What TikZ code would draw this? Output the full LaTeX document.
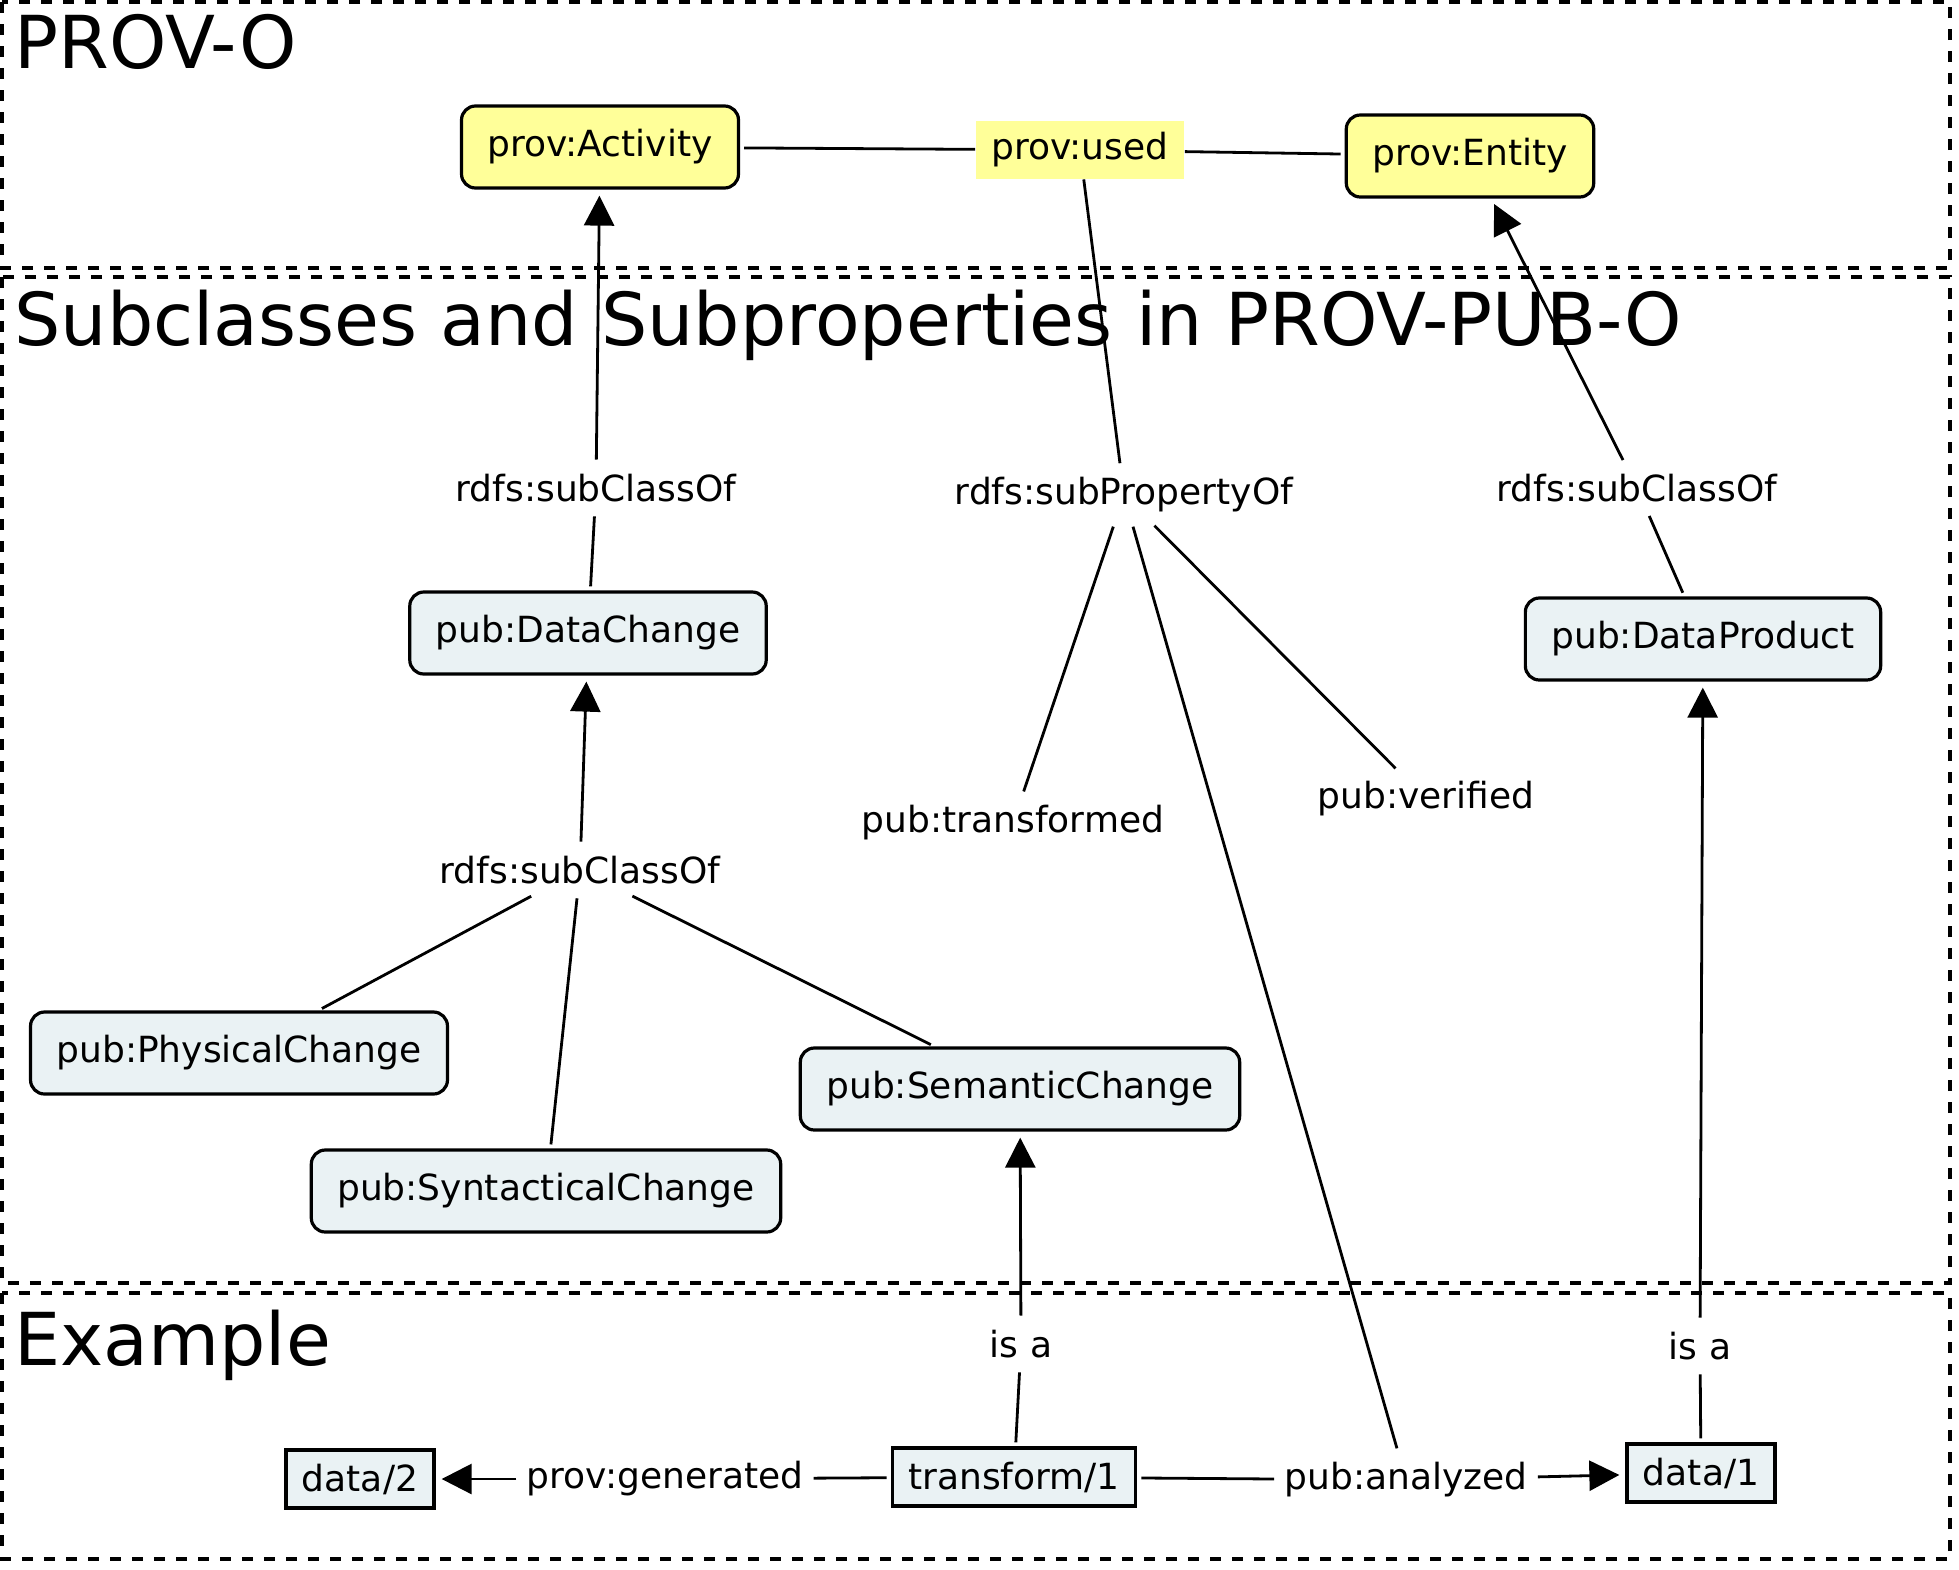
\documentclass[tikz,border=0pt]{standalone}
\usepackage{fontspec}
\setmainfont{DejaVu Sans}
\usetikzlibrary{arrows.meta}
\definecolor{provyellow}{RGB}{255,255,153}
\definecolor{pubblue}{RGB}{234,242,244}
\tikzset{
  cls/.style={draw, line width=1.6pt, rounded corners=7pt, fill=pubblue,
    font=\fontsize{18}{22}\selectfont, inner xsep=13pt, minimum height=41pt},
  provcls/.style={cls, fill=provyellow},
  inst/.style={draw, line width=1.6pt, fill=pubblue,
    font=\fontsize{18}{22}\selectfont, inner xsep=8pt, minimum height=29pt},
  lbl/.style={font=\fontsize{18}{22}\selectfont, inner xsep=3pt, inner ysep=5pt},
  provlbl/.style={lbl, fill=provyellow, inner xsep=8pt, minimum height=29pt},
  secbox/.style={draw, line width=1.7pt, dash pattern=on 5.5pt off 5.5pt},
  sectitle/.style={font=\fontsize{36.5}{40}\selectfont, anchor=base west, inner sep=0pt},
  link/.style={line width=1.4pt, shorten <=2pt, shorten >=2pt},
  isarrow/.style={link, -{Triangle[length=15pt, width=15pt]}, shorten >=3pt},
}

\begin{document}
\begin{tikzpicture}[x=0.5pt, y=-0.5pt]
  \useasboundingbox (0,0) rectangle (1959,1569);
  % sections
  \draw[secbox] (2,2) rectangle (1950,268);
  \draw[secbox] (2,277) rectangle (1950,1283);
  \draw[secbox] (2,1293) rectangle (1950,1559);
  \node[sectitle] (tprov) at (14,68) {PROV-O};
  \node[sectitle] (tsub) at (14,345) {Subclasses and Subproperties in PROV-PUB-O};
  \node[sectitle] (tex) at (14,1365) {Example};

  % PROV-O
  \node[provcls] (act) at (600,147) {prov:Activity};
  \node[provcls] (ent) at (1470,156) {prov:Entity};
  \node[provlbl] (used) at (1080,150) {prov:used};

  % subclasses and subproperties
  \node[lbl] (sc1) at (596,488) {rdfs:subClassOf};
  \node[lbl] (spo) at (1124,495) {rdfs:subPropertyOf};
  \node[lbl] (sc2) at (1637,488) {rdfs:subClassOf};
  \node[cls] (dchg) at (588,633) {pub:DataChange};
  \node[cls] (dprod) at (1703,639) {pub:DataProduct};
  \node[lbl] (trf) at (1013,823) {pub:transformed};
  \node[lbl] (ver) at (1426,799) {pub:verified};
  \node[lbl] (sc3) at (580,870) {rdfs:subClassOf};
  \node[cls] (phys) at (239,1053) {pub:PhysicalChange};
  \node[cls] (synt) at (546,1191) {pub:SyntacticalChange};
  \node[cls] (sem) at (1020,1089) {pub:SemanticChange};

  % example
  \node[lbl] (isa1) at (1021,1344) {is a};
  \node[lbl] (isa2) at (1700,1346) {is a};
  \node[inst] (d2) at (360,1479) {data/2};
  \node[lbl] (gen) at (665,1479) {prov:generated};
  \node[inst] (tr1) at (1014,1477) {transform/1};
  \node[lbl] (ana) at (1406,1480) {pub:analyzed};
  \node[inst] (d1) at (1701,1473) {data/1};

  % links
  \draw[link, shorten >=0pt] (act) -- (used);
  \draw[link, shorten <=0pt] (used) -- (ent);
  \draw[link, shorten <=0pt] (used) -- (spo);
  \draw[link] (spo) -- (trf);
  \draw[link] (spo) -- (ver);
  \draw[link] (spo) -- (ana);
  \draw[link] (dchg) -- (sc1);
  \draw[isarrow] (sc1) -- (act);
  \draw[link] (dprod) -- (sc2);
  \draw[isarrow] (sc2) -- (ent);
  \draw[link] (phys) -- (sc3);
  \draw[link] (synt) -- (sc3);
  \draw[link] (sem) -- (sc3);
  \draw[isarrow] (sc3) -- (dchg);
  \draw[link] (tr1) -- (isa1);
  \draw[isarrow] (isa1) -- (sem);
  \draw[link] (d1) -- (isa2);
  \draw[isarrow] (isa2) -- (dprod);
  \draw[link] (tr1) -- (gen);
  \draw[isarrow] (gen) -- (d2);
  \draw[link] (tr1) -- (ana);
  \draw[isarrow] (ana) -- (d1);
\end{tikzpicture}
\end{document}
